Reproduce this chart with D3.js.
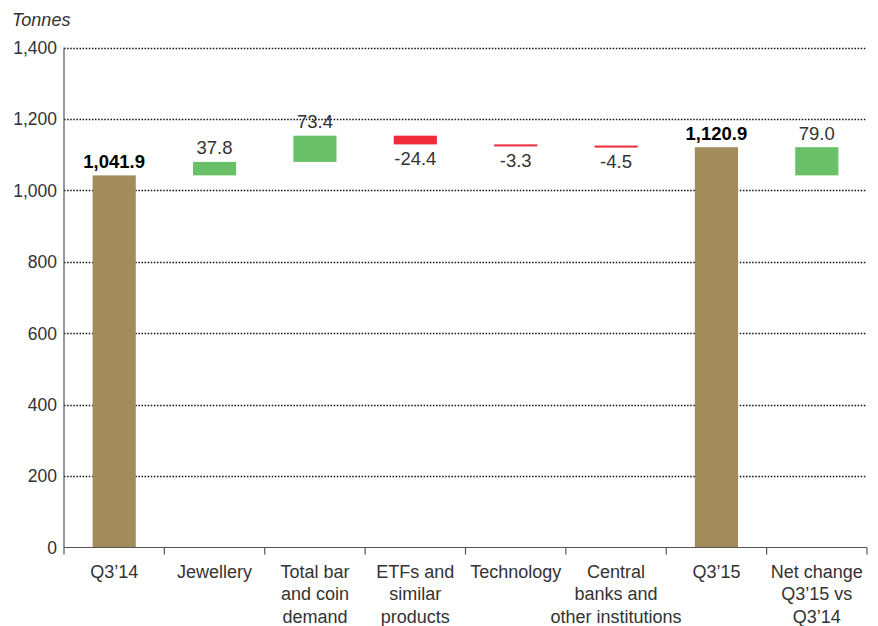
<!DOCTYPE html>
<html>
<head>
<meta charset="utf-8">
<script src="https://cdn.jsdelivr.net/npm/d3@7"></script>
<style>
  body { margin: 0; background: #fff; }
  text { font-family: "Liberation Sans", Arial, sans-serif; fill: #333; }
</style>
</head>
<body>
<div id="chart"></div>
<script>
// categories (line-broken as in the reference)
const categories = ["Q3'14", "Jewellery", "Total bar and coin demand", "ETFs and similar products",
  "Technology", "Central banks and other institutions", "Q3'15", "Net change Q3'15 vs Q3'14"];
const categoryLines = [
  ["Q3\u201914"], ["Jewellery"], ["Total bar", "and coin", "demand"], ["ETFs and", "similar", "products"],
  ["Technology"], ["Central", "banks and", "other institutions"], ["Q3\u201915"], ["Net change", "Q3\u201915 vs", "Q3\u201914"]
];
// "total" = full bar from zero, "delta" = floating change, "net" = floating from first total
const kinds = ["total", "delta", "delta", "delta", "delta", "delta", "total", "net"];
const values = [1041.9, 37.8, 73.4, -24.4, -3.3, -4.5, 1120.9, 79.0];
const labels = ["1,041.9", "37.8", "73.4", "-24.4", "-3.3", "-4.5", "1,120.9", "79.0"];
const yTicks = [0, 200, 400, 600, 800, 1000, 1200, 1400];

const width = 878, height = 626;
const margin = { top: 47.5, right: 11, bottom: 78.5, left: 64 };

const svg = d3.select("#chart").append("svg")
  .attr("width", width)
  .attr("height", height);

const x = d3.scaleBand()
  .domain(categories)
  .range([margin.left, width - margin.right])
  .paddingInner(0.57)
  .paddingOuter(0.285);

const xb = d3.scaleBand()
  .domain(categories)
  .range([margin.left, width - margin.right]);

const y = d3.scaleLinear()
  .domain([0, 1400])
  .range([height - margin.bottom, margin.top]);

// build waterfall segments
let running = 0;
const data = categories.map(function (c, i) {
  let y0, y1;
  if (kinds[i] === "total") {
    y0 = 0; y1 = values[i]; running = values[i];
  } else if (kinds[i] === "net") {
    y0 = values[0]; y1 = values[0] + values[i];
  } else {
    y0 = running; y1 = running + values[i]; running = y1;
  }
  return { cat: c, kind: kinds[i], value: values[i], label: labels[i], y0: y0, y1: y1 };
});

// gridlines
svg.append("g")
  .selectAll("line")
  .data(yTicks.filter(d => d > 0))
  .join("line")
  .attr("x1", margin.left)
  .attr("x2", width - margin.right)
  .attr("y1", d => Math.round(y(d)) + 0.5)
  .attr("y2", d => Math.round(y(d)) + 0.5)
  .attr("stroke", "#111")
  .attr("stroke-width", 1.5)
  .attr("stroke-dasharray", "1.5,1.6");

// y tick labels
svg.append("g")
  .selectAll("text")
  .data(yTicks)
  .join("text")
  .attr("x", margin.left - 7)
  .attr("y", d => y(d))
  .attr("dy", "0.36em")
  .attr("text-anchor", "end")
  .style("font-size", "17.5px")
  .text(d => d3.format(",")(d));

svg.append("text")
  .attr("x", 12)
  .attr("y", 26)
  .style("font-size", "18px")
  .style("font-style", "italic")
  .text("Tonnes");

// bars
const colour = function (d) {
  if (d.kind === "total") return "#a38c5c";
  return d.value >= 0 ? "#69c068" : "#ee2a3b";
};

svg.append("g")
  .selectAll("rect")
  .data(data)
  .join("rect")
  .attr("x", d => x(d.cat))
  .attr("width", x.bandwidth())
  .attr("y", d => y(Math.max(d.y0, d.y1)))
  .attr("height", d => Math.max(2, Math.abs(y(d.y0) - y(d.y1))))
  .attr("fill", colour);

// value labels
svg.append("g")
  .selectAll("text")
  .data(data)
  .join("text")
  .attr("x", d => x(d.cat) + x.bandwidth() / 2)
  .attr("y", d => d.value >= 0 ? y(Math.max(d.y0, d.y1)) - 7.5 : y(Math.min(d.y0, d.y1)) + 21)
  .attr("text-anchor", "middle")
  .style("font-size", "18.5px")
  .style("font-weight", d => d.kind === "total" ? "bold" : "normal")
  .style("fill", d => d.kind === "total" ? "#000" : "#333")
  .text(d => d.label);

// axes lines
const axisG = svg.append("g").attr("stroke", "#555").attr("stroke-width", 1.2);
axisG.append("line")
  .attr("x1", margin.left).attr("x2", margin.left)
  .attr("y1", margin.top).attr("y2", y(0) + 7);
axisG.append("line")
  .attr("x1", margin.left).attr("x2", width - margin.right)
  .attr("y1", y(0)).attr("y2", y(0));
axisG.selectAll("line.tick")
  .data(categories)
  .join("line")
  .attr("class", "tick")
  .attr("x1", d => xb(d) + xb.bandwidth())
  .attr("x2", d => xb(d) + xb.bandwidth())
  .attr("y1", y(0))
  .attr("y2", y(0) + 7);

// category labels
const cat = svg.append("g")
  .selectAll("text")
  .data(categories)
  .join("text")
  .attr("x", d => xb(d) + xb.bandwidth() / 2)
  .attr("y", y(0) + 30)
  .attr("text-anchor", "middle")
  .style("font-size", "18px");

cat.each(function (d, i) {
  d3.select(this).selectAll("tspan")
    .data(categoryLines[i])
    .join("tspan")
    .attr("x", xb(d) + xb.bandwidth() / 2)
    .attr("dy", (t, j) => j === 0 ? 0 : 22.5)
    .text(t => t);
});
</script>
</body>
</html>
